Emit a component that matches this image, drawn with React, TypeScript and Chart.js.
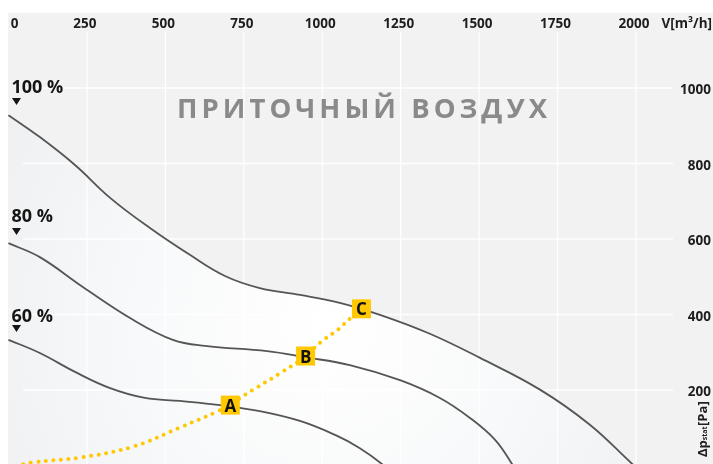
import React, { useEffect, useRef } from 'react';
import { Chart, registerables } from 'chart.js';

Chart.register(...registerables);

// ---- data ----
const xTicks = [0, 250, 500, 750, 1000, 1250, 1500, 1750, 2000];
const yTicks = [200, 400, 600, 800, 1000];
const xUnit = 'V[m³/h]';
const title = 'ПРИТОЧНЫЙ ВОЗДУХ';
const curveLabels = ['100 %', '80 %', '60 %'];

const flow100 = [0, 100, 212, 324, 451, 578, 690, 801, 929, 1056, 1184, 1343, 1503, 1694, 1853, 1987, 2044];
const pres100 = [928, 870, 796, 709, 629, 558, 502, 470, 452, 431, 399, 349, 285, 201, 108, 5, -37];

const flow80 = [0, 100, 237, 397, 524, 626, 824, 945, 1088, 1248, 1375, 1471, 1551, 1605, 1647];
const pres80 = [589, 552, 473, 386, 333, 317, 303, 287, 266, 226, 179, 126, 68, 4, -51];

const flow60 = [0, 100, 212, 324, 435, 547, 674, 801, 929, 1041, 1120, 1190, 1232];
const pres60 = [333, 298, 248, 205, 179, 171, 160, 144, 118, 81, 46, 4, -33];

const flowWork = [0, 75, 228, 397, 547, 665, 706, 780, 875, 946, 994, 1050, 1088, 1126];
const presWork = [-6, 8, 21, 50, 101, 143, 162, 201, 249, 289, 326, 360, 389, 416];

const markerLabels = ['A', 'B', 'C'];
const markerFlow = [707, 947, 1125];
const markerPres = [160, 290, 415];

const pts = (xs: number[], ys: number[]) => xs.map((x, i) => ({ x, y: ys[i] }));

const FONT = '"Open Sans", "DejaVu Sans", sans-serif';

const decorPlugin = {
  id: 'decor',
  beforeDraw(chart: any) {
    const c = chart.ctx;
    c.save();
    c.fillStyle = '#ffffff';
    c.fillRect(0, 0, chart.width, chart.height);
    c.fillStyle = '#f2f2f2';
    c.fillRect(8, 13, chart.width - 8, chart.height - 13);
    c.restore();
  },
  beforeDatasetsDraw(chart: any) {
    const c = chart.ctx;
    const xs = chart.scales.x;
    const ys = chart.scales.y;
    c.save();
    c.strokeStyle = 'rgba(255,255,255,0.95)';
    c.lineWidth = 1.3;
    xTicks.forEach((v) => {
      if (v === 0) return;
      const px = xs.getPixelForValue(v);
      c.beginPath();
      c.moveTo(px, 32);
      c.lineTo(px, chart.height);
      c.stroke();
    });
    yTicks.forEach((v) => {
      const py = ys.getPixelForValue(v);
      c.beginPath();
      c.moveTo(23, py);
      c.lineTo(673, py);
      c.stroke();
    });
    c.restore();
  },
  afterDatasetsDraw(chart: any) {
    const c = chart.ctx;
    const xs = chart.scales.x;
    const ys = chart.scales.y;
    c.save();
    // markers
    markerLabels.forEach((lab, i) => {
      const px = xs.getPixelForValue(markerFlow[i]);
      const py = ys.getPixelForValue(markerPres[i]);
      c.fillStyle = '#ffc800';
      c.fillRect(px - 9.5, py - 9.5, 19, 19);
      c.fillStyle = '#111111';
      c.font = `700 17px ${FONT}`;
      c.textAlign = 'center';
      c.textBaseline = 'alphabetic';
      c.fillText(lab, px, py + 6.5);
    });

    // top axis labels
    c.fillStyle = '#1e1e1e';
    c.font = `700 13.5px ${FONT}`;
    c.textAlign = 'center';
    c.textBaseline = 'alphabetic';
    xTicks.forEach((v) => {
      let px = xs.getPixelForValue(v) - 2;
      if (v === 0) px = 14.5;
      c.fillText(String(v), px, 28);
    });
    c.textAlign = 'right';
    c.fillText(xUnit, 712, 28);

    // right axis labels
    yTicks.forEach((v) => {
      const py = ys.getPixelForValue(v);
      c.fillText(String(v), 711, py + 6);
    });

    // rotated y unit
    c.save();
    c.translate(707, 457);
    c.rotate(-Math.PI / 2);
    c.textAlign = 'left';
    c.font = `700 13px ${FONT}`;
    let tx = 0;
    c.fillText('Δp', tx, 0);
    tx += c.measureText('Δp').width;
    c.font = `700 7px ${FONT}`;
    c.fillText('stat', tx, 0);
    tx += c.measureText('stat').width + 0.5;
    c.font = `700 13px ${FONT}`;
    c.fillText('[Pa]', tx, 0);
    c.restore();

    // curve labels and triangles
    const labelBase = [93, 222, 322];
    const triTop = [98, 228, 325];
    c.font = `700 18px ${FONT}`;
    c.textAlign = 'left';
    c.fillStyle = '#151515';
    curveLabels.forEach((lab, i) => {
      c.fillText(lab, 11.5, labelBase[i]);
      c.beginPath();
      c.moveTo(12, triTop[i]);
      c.lineTo(21, triTop[i]);
      c.lineTo(16.5, triTop[i] + 7);
      c.closePath();
      c.fill();
    });

    // title with letter spacing
    c.font = `700 27.5px ${FONT}`;
    c.fillStyle = '#8a8a8a';
    const chars = Array.from(title);
    const widths = chars.map((ch) => c.measureText(ch).width);
    const natural = widths.reduce((a, b) => a + b, 0);
    const targetW = 370;
    const sp = (targetW - natural) / (chars.length - 1);
    let x = 177;
    chars.forEach((ch, i) => {
      c.fillText(ch, x, 118);
      x += widths[i] + sp;
    });
    c.restore();
  },
};

const lineBase = {
  borderColor: '#555555',
  borderWidth: 1.8,
  pointRadius: 0,
  tension: 0.4,
  fill: false,
};

export default function App() {
  const ref = useRef<HTMLCanvasElement | null>(null);
  useEffect(() => {
    document.body.style.margin = '0';
    const canvas = ref.current;
    if (!canvas) return;
    const chart = new Chart(canvas, {
      type: 'line',
      data: {
        datasets: [
          {
            ...lineBase,
            label: '100 %',
            data: pts(flow100, pres100),
            fill: 'start',
            backgroundColor: (ctx: any) => {
              const chart = ctx.chart;
              if (!chart.chartArea) return 'rgba(0,0,0,0)';
              const g = chart.ctx.createRadialGradient(330, 325, 0, 330, 325, 380);
              g.addColorStop(0, '#ffffff');
              g.addColorStop(0.5, '#f8f9fa');
              g.addColorStop(1, '#eff0f2');
              return g;
            },
          },
          { ...lineBase, label: '80 %', data: pts(flow80, pres80) },
          { ...lineBase, label: '60 %', data: pts(flow60, pres60) },
          {
            label: 'work',
            data: pts(flowWork, presWork),
            borderColor: '#ffc800',
            borderWidth: 4,
            borderDash: [0, 7.6],
            borderCapStyle: 'round',
            pointRadius: 0,
            tension: 0.4,
            fill: false,
          },
        ],
      },
      options: {
        animation: false,
        responsive: false,
        devicePixelRatio: 1,
        events: [],
        layout: { padding: { left: 8, top: 13, right: 0, bottom: 0 } },
        scales: {
          x: { type: 'linear', min: -1.5, max: 2245.5, display: false },
          y: { type: 'linear', min: 4, max: 1198.7, display: false },
        },
        plugins: {
          legend: { display: false },
          tooltip: { enabled: false },
          filler: { drawTime: 'beforeDatasetsDraw' },
        },
      } as any,
      plugins: [decorPlugin],
    });
    return () => chart.destroy();
  }, []);

  return (
    <div style={{ position: 'absolute', left: 0, top: 0, width: 713, height: 464 }}>
      <canvas ref={ref} width={713} height={464} style={{ display: 'block', width: 713, height: 464 }} />
    </div>
  );
}
